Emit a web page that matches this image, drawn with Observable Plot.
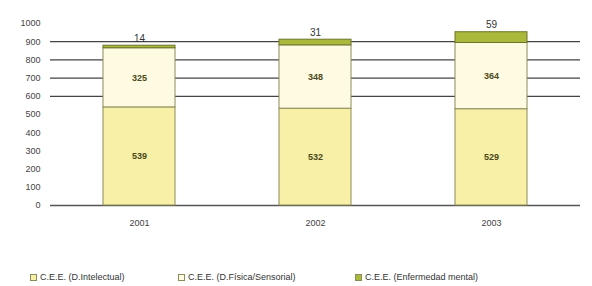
<!DOCTYPE html>
<html><head><meta charset="utf-8">
<script src="https://cdn.jsdelivr.net/npm/d3@7"></script>
<script src="https://cdn.jsdelivr.net/npm/@observablehq/plot@0.6"></script>
<style>
body{margin:0;background:#fff;font-family:"Liberation Sans",Arial,sans-serif;}
#legend{font-size:9px;color:#333;margin-top:32px;height:18px;}
#legend .it{position:absolute;display:flex;align-items:center;}
#legend .sw{width:7px;height:7px;border:1px solid #8c8c5a;margin-right:3px;box-sizing:border-box;}
</style></head>
<body>
<div id="chart"></div>
<div id="legend" style="position:relative"></div>
<script>
const years = ["2001", "2002", "2003"];
const series = ["C.E.E. (D.Intelectual)", "C.E.E. (D.Física/Sensorial)", "C.E.E. (Enfermedad mental)"];
const intelectual = [539, 532, 529];
const fisica = [325, 348, 364];
const mental = [14, 31, 59];
const colors = ["#f8f0a6", "#fffbe2", "#aab83c"];
const yTicks = [0,100,200,300,400,500,600,700,800,900,1000];
const gridTicks = [600,700,800,900];

const data = [];
years.forEach((y,i)=>{
  data.push({year:y, s:series[0], v:intelectual[i]});
  data.push({year:y, s:series[1], v:fisica[i]});
  data.push({year:y, s:series[2], v:mental[i]});
});

const plot = Plot.plot({
  width: 592, height: 240,
  marginTop: 23, marginBottom: 35, marginLeft: 50, marginRight: 12,
  style: {fontFamily: "Liberation Sans, Arial, sans-serif", fontSize: "9px", color: "#444"},
  x: {domain: years, padding: 0, label: null, tickSize: 0, tickPadding: 14},
  y: {domain: [0, 1000], ticks: yTicks, tickFormat: d => String(d), label: null, tickSize: 0, tickPadding: 10},
  color: {domain: series, range: colors},
  marks: [
    Plot.ruleY(gridTicks, {stroke: "#444", strokeWidth: 1.3}),
    Plot.ruleY([0], {stroke: "#555", strokeWidth: 1.3}),
    Plot.barY(data, {x: "year", y: "v", fill: "s", order: series, stroke: d => d.s === series[2] ? "#6e7428" : "#8c8c5a", strokeWidth: 1, insetLeft: 52, insetRight: 52}),
    Plot.text(data, Plot.stackY({x: "year", y: "v", z: "s", order: series, text: d => d.s === series[2] ? "" : String(d.v), fill: "#4a4a20", fontWeight: "bold", fontSize: 9})),
    Plot.text(data.filter(d => d.s === series[2]), {x: "year", y: (d, i) => intelectual[i] + fisica[i] + mental[i], text: d => String(d.v), dy: -7, fill: "#333", fontSize: 10})
  ]
});
document.getElementById("chart").appendChild(plot);

const lg = document.getElementById("legend");
const xs = [30, 178, 355];
series.forEach((s,i)=>{
  const it = document.createElement("div");
  it.className = "it";
  it.style.left = xs[i] + "px";
  it.innerHTML = `<div class="sw" style="background:${colors[i]}"></div><span>${s}</span>`;
  lg.appendChild(it);
});
</script>
</body></html>
